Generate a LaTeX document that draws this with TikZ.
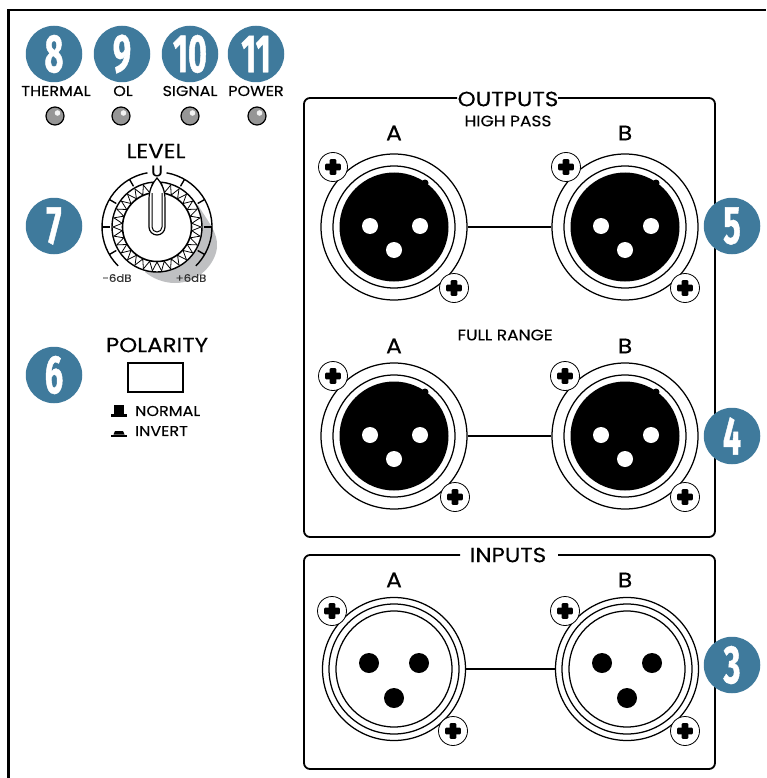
\documentclass[tikz,border=0pt]{standalone}
\usepackage{fontspec}
\usetikzlibrary{calc}
\setmainfont{Poppins}[FakeStretch=1.12,FakeBold=0.25]
\newfontfamily\numfont{Fira Sans}[BoldFeatures={FakeStretch=0.6,FakeBold=0.8}]
\definecolor{callblue}{HTML}{3F7A9C}
\definecolor{ledgray}{HTML}{969696}
\definecolor{shadowgray}{HTML}{BFC0C2}
\tikzset{
  callout/.style={circle,fill=callblue,minimum size=56.5pt,inner sep=0pt,text=white,font=\numfont\bfseries\fontsize{54}{54}\selectfont},
  lbl/.style={inner sep=0pt,font=\fontsize{14.3}{15}\selectfont},
  lblmid/.style={inner sep=0pt,font=\fontsize{15.2}{16}\selectfont},
  lbltitle/.style={inner sep=0pt,font=\fontsize{20.5}{21}\selectfont},
  lblconn/.style={inner sep=0pt,font=\fontsize{21}{22}\selectfont},
  lblsmall/.style={inner sep=0pt,text=black!80,font=\fontsize{10.5}{13}\selectfont},
  panel/.style={line width=1.8pt,line join=round,rounded corners=6pt},
  ring/.style={circle,draw=black,line width=1.25pt,fill=white,inner sep=0pt},
  screwbox/.style={circle,draw=black,line width=0.8pt,fill=white,minimum size=29pt,inner sep=0pt},
  link/.style={line width=1.5pt},
  knobline/.style={line width=1.4pt},
}
\newcommand{\led}[2]{%
  \node[circle,draw=black,line width=1.2pt,fill=ledgray,minimum size=18pt,inner sep=0pt] (#2) at (#1) {};
  \fill[white!90!gray] ($(#1)+(2.5,-3)$) circle (2.8);
}
\newcommand{\screw}[2]{%
  \node[screwbox] (#2) at (#1) {};
  \fill[black,rounded corners=1pt] ($(#1)+(-3.3,-7.8)$) rectangle ($(#1)+(3.3,7.8)$);
  \fill[black,rounded corners=1pt] ($(#1)+(-7.8,-3.3)$) rectangle ($(#1)+(7.8,3.3)$);
}
\newcommand{\xlrout}[2]{%
  \node[ring,minimum size=146pt] (#2) at (#1) {};
  \node[ring,minimum size=122pt] at (#1) {};
  \node[circle,fill=black,minimum size=109pt,inner sep=0pt] at (#1) {};
  \fill[black] ($(#1)+(31,-44)$) circle (3.5);
  \fill[white] ($(#1)+(-24,-1)$) circle (8);
  \fill[white] ($(#1)+(26,-1)$) circle (8);
  \fill[white] ($(#1)+(0,23)$) circle (8);
}
\newcommand{\xlrin}[2]{%
  \node[ring,minimum size=143pt] (#2) at (#1) {};
  \node[ring,minimum size=130pt] at (#1) {};
  \node[ring,minimum size=116pt] at (#1) {};
  \fill[black] ($(#1)+(-25,-6)$) circle (10);
  \fill[black] ($(#1)+(25,-6)$) circle (10);
  \fill[black] ($(#1)+(0,29)$) circle (10);
}
\begin{document}
\begin{tikzpicture}[x=1pt,y=-1pt]
\useasboundingbox (0,0) rectangle (766,778);
% frame
\draw[line width=2.6pt] (8.5,778) -- (8.5,10) -- (766,10);
% panels
\draw[panel] (457,98) -- (304,98) -- (304,537) -- (715,537) -- (715,98) -- (558,98);
\draw[panel] (460,555) -- (304,555) -- (304,769) -- (715,769) -- (715,555) -- (558,555);
% callouts
\node[callout] (c8) at (54,54) {8};
\node[callout] (c9) at (122,54) {9};
\node[callout] (c10) at (190,54) {10};
\node[callout] (c11) at (256,54) {11};
\node[callout] (c7) at (54,226) {7};
\node[callout] (c6) at (54,375) {6};
\node[callout] (c5) at (732,226) {5};
\node[callout] (c4) at (732,436) {4};
\node[callout] (c3) at (732,665) {3};
% LED labels
\node[lbl] (t8) at (56,91) {THERMAL};
\node[lbl] (t9) at (123,91) {OL};
\node[lbl] (t10) at (190,91) {SIGNAL};
\node[lbl] (t11) at (256,91) {POWER};
\led{55,116}{l8}
\led{121,116}{l9}
\led{190,116}{l10}
\led{257,116}{l11}
% knob
\node[lbltitle] (level) at (156,151) {LEVEL};
\coordinate (kc) at (157,227);
\fill[shadowgray] (198,205) .. controls (208,222) and (218,232) .. (217,247) .. controls (216,262) and (200,283) .. (175,283) .. controls (163,283) and (152,278) .. (145,272) -- (157,227) -- cycle;
\draw[knobline] (kc) ++(135:55) arc[start angle=135,end angle=260,radius=55];
\draw[knobline] (kc) ++(280:55) arc[start angle=280,end angle=405,radius=55];
\foreach \a in {150,180,210,240,300,330,360,390}
  \draw[knobline] ($(kc)+(\a:55)$) -- ($(kc)+(\a:47)$);
\node[circle,draw=black,line width=1.4pt,fill=white,minimum size=90pt,inner sep=0pt] (kring) at (kc) {};
\foreach \a in {0,12,...,348}
  \draw[line width=0.8pt,line join=miter] ($(kc)+(\a:44)$) -- ($(kc)+(\a+6:35)$) -- ($(kc)+(\a+12:44)$);
\node[circle,draw=black,line width=1.6pt,fill=white,minimum size=69pt,inner sep=0pt] (kin) at (kc) {};
\draw[line width=1.2pt,fill=white] (157,178) .. controls (152,184) and (149,190) .. (149,200) -- (149,227) arc[start angle=180,end angle=0,radius=8] -- (165,200) .. controls (165,190) and (162,184) .. (157,178) -- cycle;
\draw[line width=1pt] (152,193) -- (152,227) arc[start angle=180,end angle=0,radius=5] -- (162,193);
\node[inner sep=0pt,font=\fontsize{15.5}{16}\selectfont] (u) at (157,171) {U};
\node[lblsmall] (m6) at (117,278) {-6dB};
\node[lblsmall] (p6) at (191,278) {+6dB};
% polarity
\node[lbltitle] (pol) at (157,345) {POLARITY};
\node[draw=black,line width=1.6pt,minimum width=55pt,minimum height=29pt,inner sep=0pt] (polbox) at (155.5,377.5) {};
\node[lbl,anchor=west] (norm) at (135,411) {NORMAL};
\node[lbl,anchor=west] (inv) at (135,431) {INVERT};
\fill[black] (111,414) rectangle (127,416.5);
\fill[black] (114,405) rectangle (124,414);
\fill[black] (111,434.5) rectangle (127,436.5);
\fill[black] (113.5,434.5) -- (115,431) -- (123,431) -- (124.5,434.5) -- cycle;
% panel titles
\node[lbltitle] (outs) at (508,99) {OUTPUTS};
\node[lblmid] (hp) at (508,121) {HIGH PASS};
\node[lblmid] (fr) at (505,335) {FULL RANGE};
\node[lbltitle] (ins) at (508,555) {INPUTS};
% connector letters
\node[lblconn] (la1) at (394,133) {A};
\node[lblconn] (lb1) at (625,133) {B};
\node[lblconn] (la2) at (394,346) {A};
\node[lblconn] (lb2) at (625,346) {B};
\node[lblconn] (la3) at (394,580) {A};
\node[lblconn] (lb3) at (625,580) {B};
% connectors
\xlrout{394,227}{oa}
\xlrout{625,227}{ob}
\xlrout{394,436}{fa}
\xlrout{625,436}{fb}
\xlrin{394,669}{ia}
\xlrin{627,669}{ib}
\draw[link] (oa.east) -- (ob.west);
\draw[link] (fa.east) -- (fb.west);
\draw[link] (ia.east) -- (ib.west);
% screws
\screw{333,167}{s1}
\screw{454,288}{s2}
\screw{566,167}{s3}
\screw{685,288}{s4}
\screw{333,376}{s5}
\screw{455,497}{s6}
\screw{565,376}{s7}
\screw{685,497}{s8}
\screw{332,611}{s9}
\screw{453,731}{s10}
\screw{565,611}{s11}
\screw{685,731}{s12}
\end{tikzpicture}
\end{document}
